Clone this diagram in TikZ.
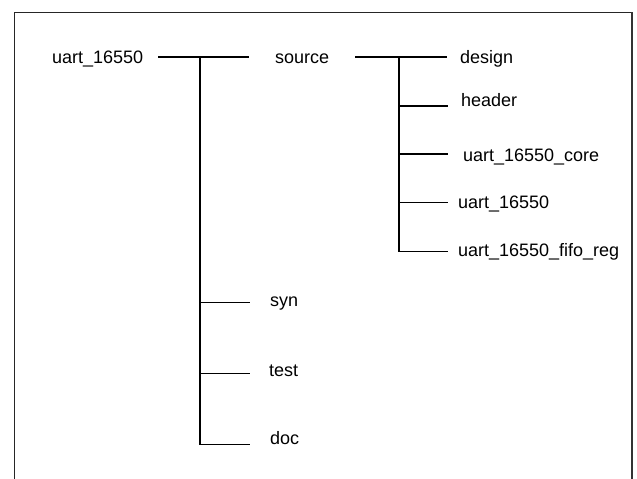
\documentclass[tikz,border=0pt]{standalone}
\usepackage{fontspec}
\setmainfont{Liberation Sans}
\begin{document}
\begin{tikzpicture}[x=1pt,y=-1pt,
  lbl/.style={anchor=base west,inner sep=0pt,outer sep=0pt,font=\fontsize{18}{20}\selectfont},
  conn/.style={line width=1.3pt,line cap=rect},
  frame/.style={line width=1pt,draw=black!85}]
\useasboundingbox (0,0) rectangle (637,479);
% frame
\draw[frame] (14,479) -- (14,12) -- (632,12);
\draw[line width=2pt,draw=black!80] (632,12) -- (632,479);
% labels
\node[lbl] (root) at (52,63) {uart\_16550};
\node[lbl] (source) at (275,63) {source};
\node[lbl] (design) at (460,63) {design};
\node[lbl] (header) at (461,106) {header};
\node[lbl] (core) at (463,161) {uart\_16550\_core};
\node[lbl] (top) at (458,208) {uart\_16550};
\node[lbl] (fifo) at (458,256.5) {uart\_16550\_fifo\_reg};
\node[lbl] (syn) at (270,306.5) {syn};
\node[lbl] (test) at (269,376.5) {test};
\node[lbl] (doc) at (270,444) {doc};
% connector points
\coordinate (a0) at (159,57);
\coordinate (a1) at (248,57);
\coordinate (ja) at (200,57);
\coordinate (asyn) at (249,302.7);
\coordinate (atest) at (249,373.3);
\coordinate (adoc) at (249,444.3);
\coordinate (b0) at (356,57);
\coordinate (b1) at (446,57);
\coordinate (jb) at (399,57);
\coordinate (bheader) at (447,106);
\coordinate (bcore) at (447,154);
\coordinate (btop) at (447,202.7);
\coordinate (bfifo) at (447,251.7);
% connectors
\draw[conn] (a0) -- (a1);
\draw[conn] (ja) |- (adoc);
\draw[conn] (ja |- asyn) -- (asyn);
\draw[conn] (ja |- atest) -- (atest);
\draw[conn] (b0) -- (b1);
\draw[conn] (jb) |- (bfifo);
\draw[conn] (jb |- bheader) -- (bheader);
\draw[conn] (jb |- bcore) -- (bcore);
\draw[conn] (jb |- btop) -- (btop);
\end{tikzpicture}
\end{document}
